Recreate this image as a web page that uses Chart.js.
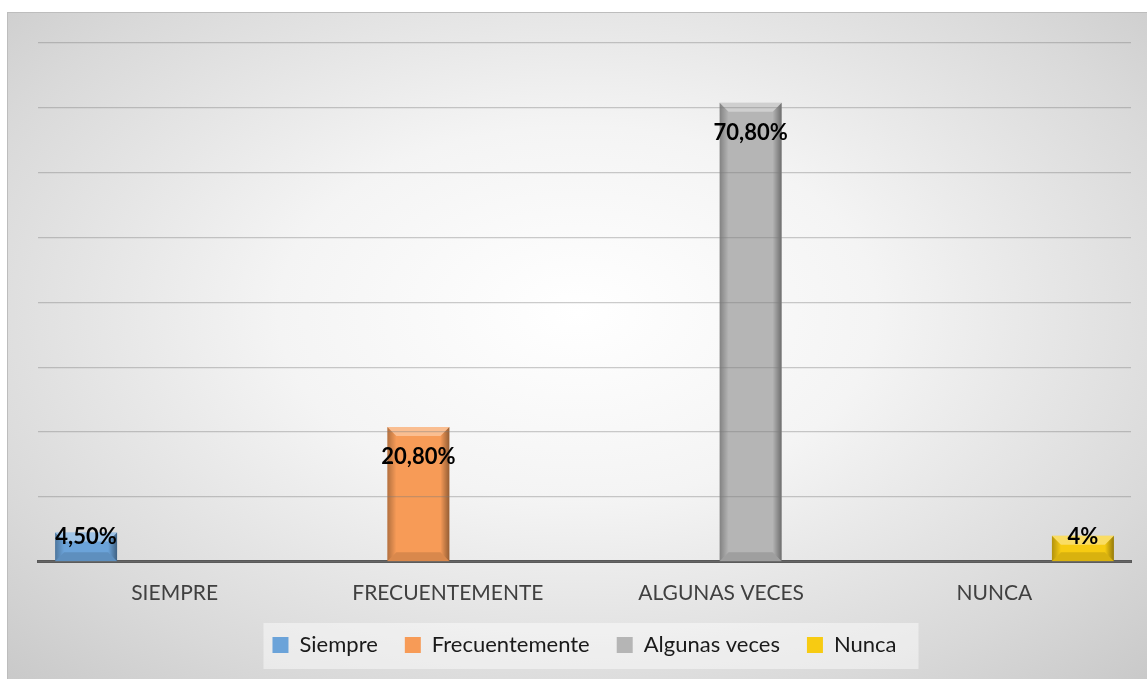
<!DOCTYPE html>
<html lang="es">
<head>
<meta charset="utf-8">
<script src="https://cdn.jsdelivr.net/npm/chart.js@4.4.1/dist/chart.umd.min.js"></script>
<style>
    body { margin: 0; background: #fff; }
    #marco {
        position: absolute; left: 7px; top: 12px; width: 1140px; height: 667px;
        border-top: 1px solid #bdbdbd; border-left: 1px solid #bdbdbd;
        background: radial-gradient(ellipse 75% 80% at 50% 45%, #ffffff 0%, #f4f4f4 35%, #d9d9d9 75%, #c6c6c6 100%);
        box-sizing: border-box;
    }
</style>
</head>
<body>
<div id="marco"><canvas id="grafico"></canvas></div>
<script>
// Datos del gráfico
const categorias = ['SIEMPRE', 'FRECUENTEMENTE', 'ALGUNAS VECES', 'NUNCA'];
const series = ['Siempre', 'Frecuentemente', 'Algunas veces', 'Nunca'];
const valores = [4.5, 20.8, 70.8, 4];
const etiquetas = ['4,50%', '20,80%', '70,80%', '4%'];
const colores = ['#6ba3d9', '#f79b57', '#b5b5b5', '#f7cb12'];

// cada serie solo tiene valor en su propia categoría
const datasets = series.map((nombre, i) => ({
    label: nombre,
    data: categorias.map((c, j) => (j === i ? valores[i] : null)),
    backgroundColor: colores[i],
    borderWidth: 0,
    categoryPercentage: 0.864,
    barPercentage: 1.05
}));

// efecto biselado sobre las barras
const bisel = {
    id: 'bisel',
    afterDatasetsDraw(chart) {
        const ctx = chart.ctx;
        chart.data.datasets.forEach((ds, i) => {
            chart.getDatasetMeta(i).data.forEach((bar, j) => {
                if (ds.data[j] == null) return;
                const l = bar.x - bar.width / 2, r = bar.x + bar.width / 2;
                const t = bar.y, b = bar.base;
                const s = Math.min(9, (b - t) / 2);
                ctx.save();
                // lado izquierdo
                let g = ctx.createLinearGradient(l, 0, l + s, 0);
                g.addColorStop(0, 'rgba(0,0,0,0.28)');
                g.addColorStop(1, 'rgba(0,0,0,0)');
                ctx.fillStyle = g;
                ctx.beginPath();
                ctx.moveTo(l, t); ctx.lineTo(l + s, t + s); ctx.lineTo(l + s, b - s); ctx.lineTo(l, b);
                ctx.fill();
                // lado derecho
                g = ctx.createLinearGradient(r, 0, r - s, 0);
                g.addColorStop(0, 'rgba(0,0,0,0.4)');
                g.addColorStop(1, 'rgba(0,0,0,0)');
                ctx.fillStyle = g;
                ctx.beginPath();
                ctx.moveTo(r, t); ctx.lineTo(r - s, t + s); ctx.lineTo(r - s, b - s); ctx.lineTo(r, b);
                ctx.fill();
                // parte superior clara
                ctx.fillStyle = 'rgba(255,255,255,0.35)';
                ctx.beginPath();
                ctx.moveTo(l, t); ctx.lineTo(r, t); ctx.lineTo(r - s, t + s); ctx.lineTo(l + s, t + s);
                ctx.fill();
                // parte inferior oscura
                ctx.fillStyle = 'rgba(0,0,0,0.12)';
                ctx.beginPath();
                ctx.moveTo(l, b); ctx.lineTo(r, b); ctx.lineTo(r - s, b - s); ctx.lineTo(l + s, b - s);
                ctx.fill();
                ctx.restore();
            });
        });
    }
};

// etiquetas de datos y fondo de la leyenda
const extras = {
    id: 'extras',
    afterLayout(chart) {
        // subir un poco la leyenda
        chart.legend.top -= 10;
        chart.legend.bottom -= 10;
    },
    beforeDraw(chart) {
        const cajas = chart.legend.legendHitBoxes;
        if (!cajas || !cajas.length) return;
        const ctx = chart.ctx;
        const x0 = cajas[0].left - 9;
        const ult = cajas[cajas.length - 1];
        const x1 = ult.left + ult.width + 22;
        const y0 = cajas[0].top - 11;
        ctx.save();
        ctx.fillStyle = 'rgba(255,255,255,0.45)';
        ctx.fillRect(x0, y0, x1 - x0, 46);
        ctx.restore();
    },
    afterDraw(chart) {
        const ctx = chart.ctx;
        ctx.save();
        ctx.font = 'bold 22px Lato';
        ctx.fillStyle = '#000';
        ctx.textAlign = 'center';
        ctx.textBaseline = 'middle';
        chart.data.datasets.forEach((ds, i) => {
            chart.getDatasetMeta(i).data.forEach((bar, j) => {
                if (ds.data[j] == null) return;
                const y = Math.min(bar.y + 30, bar.base - 24);
                ctx.fillText(etiquetas[i], bar.x, y);
            });
        });
        ctx.restore();
    }
};

new Chart(document.getElementById('grafico'), {
    type: 'bar',
    data: { labels: categorias, datasets: datasets },
    options: {
        responsive: true,
        maintainAspectRatio: false,
        animation: false,
        layout: { padding: { left: 30, right: 16, top: 30, bottom: 3 } },
        scales: {
            x: {
                grid: { display: false },
                border: { color: '#595959', width: 3 },
                ticks: { font: { family: 'Lato', size: 21 }, color: '#404040', padding: 11 }
            },
            y: {
                min: 0, max: 80,
                ticks: { display: false, stepSize: 10 },
                border: { display: false },
                grid: { color: 'rgba(120,120,120,0.38)', lineWidth: 1.3, drawTicks: false, z: 1 }
            }
        },
        plugins: {
            legend: {
                position: 'bottom',
                labels: {
                    font: { family: 'Lato', size: 22 },
                    color: '#1a1a1a',
                    boxWidth: 16, boxHeight: 16,
                    padding: 27
                }
            },
            tooltip: { enabled: false }
        }
    },
    plugins: [bisel, extras]
});
</script>
</body>
</html>
